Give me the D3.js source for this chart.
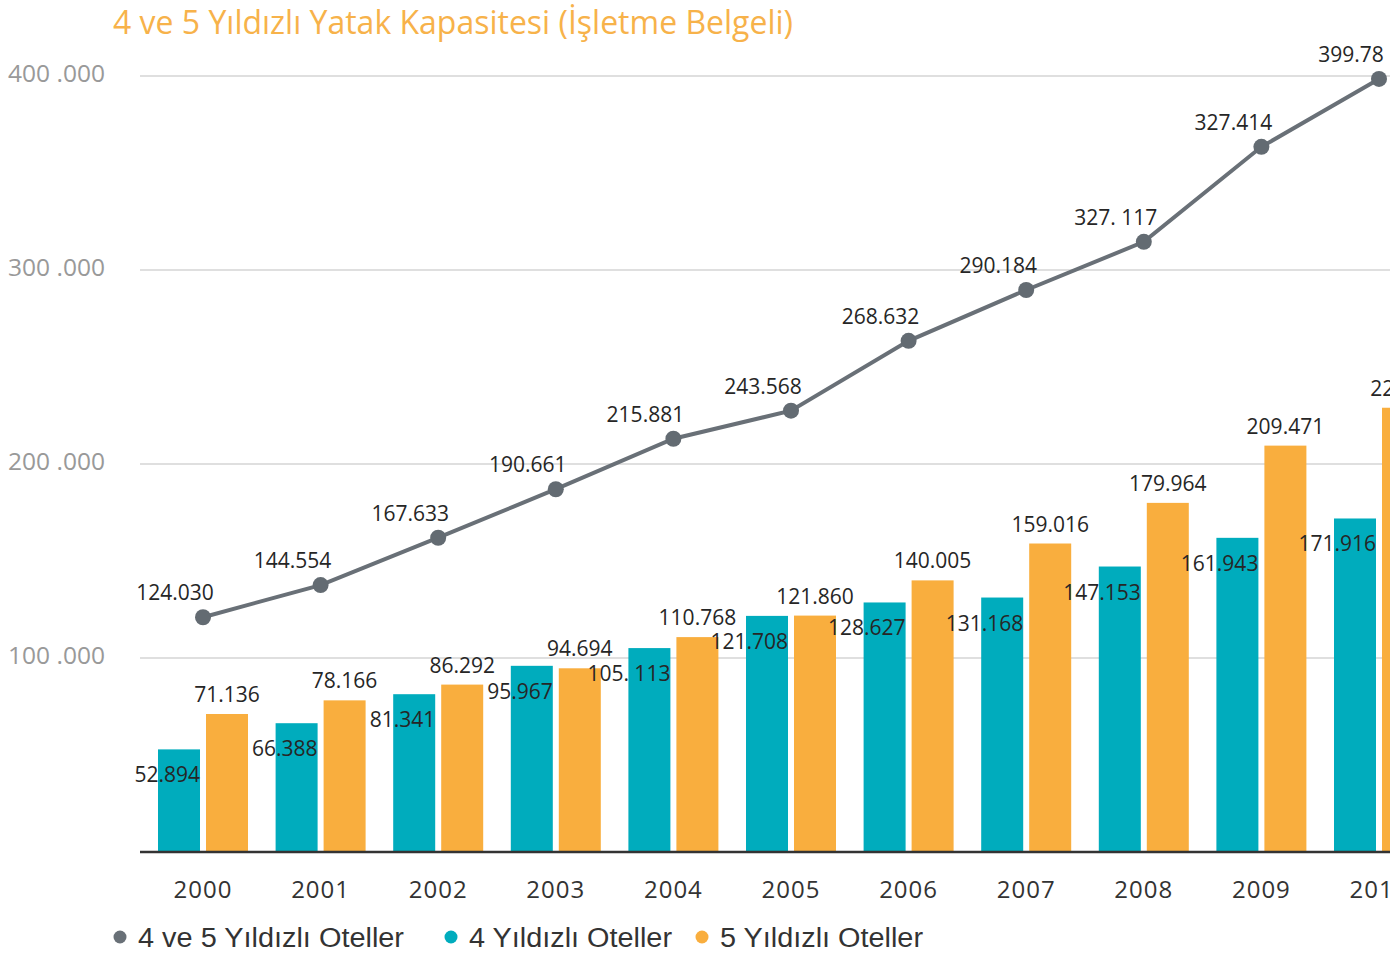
<!DOCTYPE html>
<html>
<head>
<meta charset="utf-8">
<script src="https://cdn.jsdelivr.net/npm/d3@7"></script>
<style>
  body { margin: 0; background: #fff; }
  svg { display: block; font-family: "Open Sans", sans-serif; }
</style>
</head>
<body>
<svg id="chart" width="1390" height="957"></svg>
<script>
'use strict'

/****** DATA ******/

const years = ['2000', '2001', '2002', '2003', '2004', '2005', '2006', '2007', '2008', '2009', '2010']

// 4 yildizli / 5 yildizli oteller (bars)
const fourStar = [52894, 66388, 81341, 95967, 105113, 121708, 128627, 131168, 147153, 161943, 171916]
const fiveStar = [71136, 78166, 86292, 94694, 110768, 121860, 140005, 159016, 179964, 209471, 229000]

const totalPlotted = [121000, 137600, 162000, 187000, 213000, 227500, 263500, 289700, 314500, 363500, 398500]

// labels exactly as printed in the source (some are off)
const fourLabels = ['52.894', '66.388', '81.341', '95.967', '105. 113', '121.708', '128.627', '131.168', '147.153', '161.943', '171.916']
const fiveLabels = ['71.136', '78.166', '86.292', '94.694', '110.768', '121.860', '140.005', '159.016', '179.964', '209.471', '227.86']
const totalLabels = ['124.030', '144.554', '167.633', '190.661', '215.881', '243.568', '268.632', '290.184', '327. 117', '327.414', '399.78']

const yTicks = [100000, 200000, 300000, 400000]
const yTickLabels = ['100 .000', '200 .000', '300 .000', '400 .000']

const legendItems = [
  { label: '4 ve 5 Yıldızlı Oteller', color: '#697077' },
  { label: '4 Yıldızlı Oteller', color: '#00acbd' },
  { label: '5 Yıldızlı Oteller', color: '#f9ae3e' }
]

const TITLE = '4 ve 5 Yıldızlı Yatak Kapasitesi (İşletme Belgeli)'

/****** SCALES ******/

const svg = d3.select('#chart')

const x = d3.scalePoint()
  .domain(years)
  .range([203, 1379])

const sub = d3.scaleBand()
  .domain(['four', 'five'])
  .range([-45, 45])
  .paddingInner(0.125)

const y = d3.scaleLinear()
  .domain([0, 400000])
  .range([852, 76])

/****** TITLE ******/

svg.append('text')
  .attr('x', 113)
  .attr('y', 34)
  .attr('fill', '#f7b24a')
  .attr('font-size', 32)
  .attr('textLength', 680)
  .attr('lengthAdjust', 'spacingAndGlyphs')
  .text(TITLE)

/****** GRID + Y LABELS ******/

svg.append('g').selectAll('line')
  .data(yTicks)
  .join('line')
    .attr('x1', 140)
    .attr('x2', 1390)
    .attr('y1', d => y(d))
    .attr('y2', d => y(d))
    .attr('stroke', '#d4d4d4')
    .attr('stroke-width', 1.5)

svg.append('g').selectAll('text')
  .data(yTicks)
  .join('text')
    .attr('x', 8)
    .attr('y', d => y(d) + 6)
    .attr('fill', '#999')
    .attr('font-size', 24)
    .attr('textLength', 97)
    .attr('lengthAdjust', 'spacingAndGlyphs')
    .text((d, i) => yTickLabels[i])

/****** BARS ******/

const bars = svg.append('g')

bars.selectAll('.four')
  .data(fourStar)
  .join('rect')
    .attr('class', 'four')
    .attr('x', (d, i) => x(years[i]) + sub('four'))
    .attr('y', d => y(d))
    .attr('width', sub.bandwidth())
    .attr('height', d => y(0) - y(d))
    .attr('fill', legendItems[1].color)

bars.selectAll('.five')
  .data(fiveStar)
  .join('rect')
    .attr('class', 'five')
    .attr('x', (d, i) => x(years[i]) + sub('five'))
    .attr('y', d => y(d))
    .attr('width', sub.bandwidth())
    .attr('height', d => y(0) - y(d))
    .attr('fill', legendItems[2].color)

// baseline
svg.append('line')
  .attr('x1', 140)
  .attr('x2', 1390)
  .attr('y1', y(0))
  .attr('y2', y(0))
  .attr('stroke', '#333')
  .attr('stroke-width', 2.5)

/****** BAR LABELS ******/

svg.append('g').selectAll('text')
  .data(fiveStar)
  .join('text')
    .attr('x', (d, i) => x(years[i]) + sub('five') + sub.bandwidth() / 2)
    .attr('y', d => y(d) - 12)
    .attr('text-anchor', 'middle')
    .attr('fill', '#262626')
    .attr('font-size', 21)
    .text((d, i) => fiveLabels[i])

svg.append('g').selectAll('text')
  .data(fourStar)
  .join('text')
    .attr('x', (d, i) => x(years[i]) + sub('four') + sub.bandwidth())
    .attr('y', d => y(d) + 33)
    .attr('text-anchor', 'end')
    .attr('fill', '#262626')
    .attr('font-size', 21)
    .text((d, i) => fourLabels[i])

/****** TOTAL LINE ******/

const line = d3.line()
  .x((d, i) => x(years[i]))
  .y(d => y(d))

svg.append('path')
  .datum(totalPlotted)
  .attr('fill', 'none')
  .attr('stroke', legendItems[0].color)
  .attr('stroke-width', 4)
  .attr('d', line)

svg.append('g').selectAll('circle')
  .data(totalPlotted)
  .join('circle')
    .attr('cx', (d, i) => x(years[i]))
    .attr('cy', d => y(d))
    .attr('r', 8)
    .attr('fill', '#636b72')

svg.append('g').selectAll('text')
  .data(totalPlotted)
  .join('text')
    .attr('x', (d, i) => x(years[i]) - 28)
    .attr('y', d => y(d) - 17)
    .attr('text-anchor', 'middle')
    .attr('fill', '#262626')
    .attr('font-size', 21)
    .text((d, i) => totalLabels[i])

/****** X AXIS LABELS ******/

svg.append('g').selectAll('text')
  .data(years)
  .join('text')
    .attr('x', d => x(d))
    .attr('y', 898)
    .attr('text-anchor', 'middle')
    .attr('fill', '#333')
    .attr('font-size', 24)
    .attr('letter-spacing', 1)
    .text(d => d)

/****** LEGEND ******/

const legendX = [120, 451, 702]

const legend = svg.append('g').selectAll('g')
  .data(legendItems)
  .join('g')
    .attr('transform', (d, i) => `translate(${legendX[i]},937)`)

legend.append('circle')
  .attr('r', 6.5)
  .attr('fill', d => d.color)

legend.append('text')
  .attr('x', 18)
  .attr('y', 10)
  .attr('fill', '#333')
  .attr('font-family', '"Liberation Sans", Arial, sans-serif')
  .attr('font-size', 27)
  .attr('textLength', (d, i) => [266, 203, 203][i])
  .attr('lengthAdjust', 'spacingAndGlyphs')
  .text(d => d.label)
</script>
</body>
</html>
